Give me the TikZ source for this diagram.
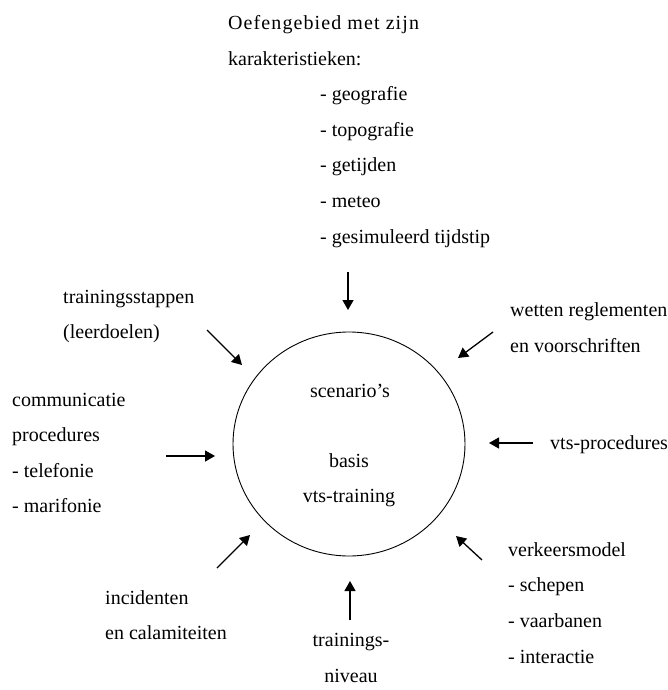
\documentclass[tikz,border=0pt]{standalone}
\usepackage{fontspec}
\setmainfont{Liberation Serif}
\usetikzlibrary{arrows.meta,shapes.geometric}
\begin{document}
\begin{tikzpicture}[x=1pt,y=-1pt,
  lbl/.style={anchor=base west, inner sep=0pt, align=left, font=\fontsize{20}{35.6}\selectfont},
  clbl/.style={anchor=base, inner sep=0pt, align=center, font=\fontsize{20}{35.6}\selectfont},
  arr/.style={line width=1.3pt, -{Triangle[length=10pt,width=11pt]}}]
\useasboundingbox[fill=white] (0,0) rectangle (668,690);

\node[draw, ellipse, line width=0.9pt, minimum width=232pt, minimum height=224pt, inner sep=0pt] (hub) at (349,444) {};
\node[clbl] (scen) at (350,397) {scenario's};
\node[clbl] (basis) at (349,502.6) {basis\\vts-training};

% base anchor lies on the last line's baseline
\node[lbl] (oef) at (228,243) {{\addfontfeature{LetterSpace=5.5}Oefengebied met zijn}\\karakteristieken:\\\hspace*{92pt}- geografie\\\hspace*{92pt}- topografie\\\hspace*{92pt}- getijden\\\hspace*{92pt}- meteo\\\hspace*{92pt}- gesimuleerd tijdstip};
\node[lbl] (stap) at (63,338.6) {trainingsstappen\\(leerdoelen)};
\node[lbl] (comm) at (12,512.8) {communicatie\\procedures\\- telefonie\\- marifonie};
\node[lbl] (wet) at (510,352) {wetten reglementen\\en voorschriften};
\node[lbl] (vts) at (550,449) {vts-procedures};
\node[lbl] (verk) at (508,663) {verkeersmodel\\- schepen\\- vaarbanen\\- interactie};
\node[lbl] (inc) at (105,639.6) {incidenten\\en calamiteiten};
\node[clbl] (niv) at (351,682) {trainings-\\niveau};

\coordinate (oefT) at (348,272); \coordinate (oefH) at (348,310);
\coordinate (stapT) at (207,330); \coordinate (stapH) at (242,365);
\coordinate (commT) at (166,456); \coordinate (commH) at (215,456);
\coordinate (wetT) at (493,332); \coordinate (wetH) at (458,358);
\coordinate (vtsT) at (533,443); \coordinate (vtsH) at (489,443);
\coordinate (incT) at (217,568); \coordinate (incH) at (250,535);
\coordinate (verkT) at (482,560); \coordinate (verkH) at (456,536);
\coordinate (nivT) at (350,620); \coordinate (nivH) at (350,581);

\draw[arr] (oefT) -- (oefH);
\draw[arr] (stapT) -- (stapH);
\draw[arr] (commT) -- (commH);
\draw[arr] (wetT) -- (wetH);
\draw[arr] (vtsT) -- (vtsH);
\draw[arr] (incT) -- (incH);
\draw[arr] (verkT) -- (verkH);
\draw[arr] (nivT) -- (nivH);
\end{tikzpicture}
\end{document}
